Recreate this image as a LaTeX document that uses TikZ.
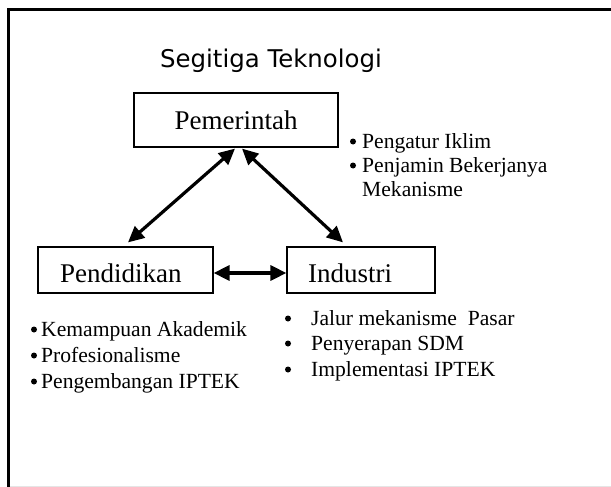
\documentclass[tikz,border=0pt]{standalone}
\usepackage{fontspec}
\setmainfont{Liberation Serif}
\newfontfamily\titlefont{DejaVu Sans}
\usetikzlibrary{arrows.meta}
\begin{document}
\begin{tikzpicture}[x=1pt,y=-1pt,
  box/.style={draw, line width=1.2pt, inner sep=0pt},
  boxtext/.style={inner sep=0pt, font=\fontsize{27}{30}\selectfont},
  bul/.style={anchor=base west, inner sep=0pt, font=\fontsize{21.6}{26}\selectfont},
  dot/.style={circle, fill, inner sep=0pt, minimum size=6pt},
  link/.style={line width=3.2pt, {Triangle[length=16pt,width=15pt]}-{Triangle[length=16pt,width=15pt]}}
]
\useasboundingbox (0,0) rectangle (611,487);
\fill[white] (0,0) rectangle (611,487);
% frame
\draw[line width=3.5pt] (8.5,487) -- (8.5,9.5) -- (611,9.5);
\draw[black!10, line width=1pt] (10,486.5) -- (611,486.5);
% title
\node[anchor=base west, inner sep=0pt, font=\titlefont\fontsize{24.4}{28}\selectfont] (title) at (160,67) {Segitiga Teknologi};
% boxes
\node[box, minimum width=204pt, minimum height=54pt] (pem) at (236,120) {};
\node[box, minimum width=175pt, minimum height=46pt] (pend) at (125.5,270) {};
\node[box, minimum width=148pt, minimum height=46pt] (ind) at (361,270) {};
\node[boxtext, anchor=base] (pemtext) at (236,129) {Pemerintah};
\node[boxtext, anchor=base west] (pendtext) at (60,282) {Pendidikan};
\node[boxtext, anchor=base west] (indtext) at (308,282) {Industri};
% arrows
\draw[link] ([xshift=2.5pt,yshift=4pt]pend.north) -- ([xshift=-1pt,yshift=-1pt]pem.south);
\draw[link] ([xshift=6pt,yshift=-1pt]pem.south) -- ([xshift=-18pt,yshift=4pt]ind.north);
\draw[link] ([yshift=-3pt]pend.east) -- ([yshift=-3pt]ind.west);
% Pemerintah list
\node[dot] (b1) at (353,141.5) {};
\node[bul] (t1) at (362,148) {Pengatur Iklim};
\node[dot] (b2) at (353,165.5) {};
\node[bul] (t2) at (362,172) {Penjamin Bekerjanya};
\node[bul] (t3) at (362,196) {Mekanisme};
% Pendidikan list
\node[dot] (lb1) at (34,329.5) {};
\node[bul] (l1) at (41,336) {Kemampuan Akademik};
\node[dot] (lb2) at (34,355.5) {};
\node[bul] (l2) at (41,362) {Profesionalisme};
\node[dot] (lb3) at (34,381.5) {};
\node[bul] (l3) at (41,388) {Pengembangan IPTEK};
% Industri list
\node[dot] (ib1) at (288,318.5) {};
\node[bul] (i1) at (311,325) {Jalur mekanisme\ \ Pasar};
\node[dot] (ib2) at (288,343.5) {};
\node[bul] (i2) at (311,350) {Penyerapan SDM};
\node[dot] (ib3) at (288,369.5) {};
\node[bul] (i3) at (311,376) {Implementasi IPTEK};
\end{tikzpicture}
\end{document}
